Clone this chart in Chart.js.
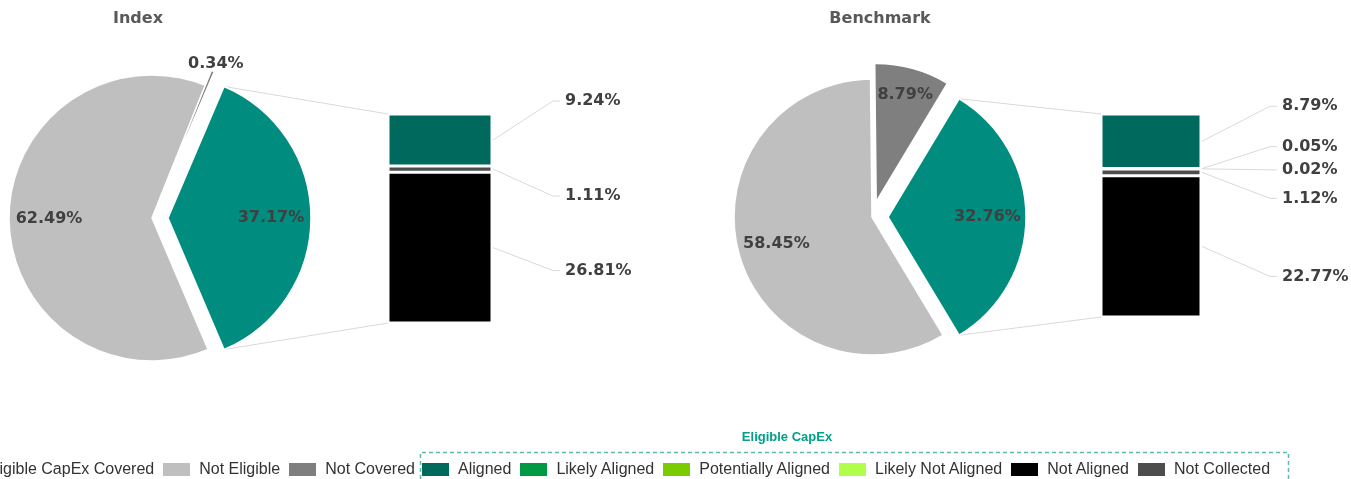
<!DOCTYPE html>
<html>
<head>
<meta charset="utf-8">
<script src="https://cdn.jsdelivr.net/npm/chart.js@4.4.1/dist/chart.umd.min.js"></script>
<style>
  html, body { margin: 0; padding: 0; background: #fff; overflow: hidden; }
  #wrap { position: relative; width: 1351px; height: 479px; overflow: hidden; }
  #wrap canvas { position: absolute; }
  .title { position: absolute; top: 8px; width: 160px; text-align: center; line-height: 20px;
           font: bold 16px "DejaVu Sans", Verdana, sans-serif; color: #595959; }
  .legend { position: absolute; top: 460px; height: 18px; display: flex; align-items: center;
            font: 16px "Liberation Sans", Arial, sans-serif; color: #333333; white-space: nowrap; }
  .legend .item { display: flex; align-items: center; margin-left: 9px; }
  .legend .sw { width: 27px; height: 13px; margin-right: 9px; flex: none; }
  #legA { left: 0; width: 415px; justify-content: flex-end; }
  #legB { left: 413px; }
  #groupTitle { position: absolute; left: 707px; width: 160px; top: 429px; line-height: 16px; text-align: center;
                font: bold 13px "Liberation Sans", Arial, sans-serif; color: #00A08A; }
</style>
</head>
<body>
<div id="wrap">
  <canvas id="links" width="1351" height="479" style="left:0;top:0"></canvas>
  <div class="title" style="left:58px">Index</div>
  <div class="title" style="left:800px">Benchmark</div>
  <canvas id="pie-index" width="364" height="340" style="left:-30px;top:48px"></canvas>
  <canvas id="bar-index" width="280" height="260" style="left:388px;top:84px"></canvas>
  <canvas id="pie-bench" width="364" height="340" style="left:690px;top:47px"></canvas>
  <canvas id="bar-bench" width="250" height="250" style="left:1101px;top:84px"></canvas>
  <div id="groupTitle">Eligible CapEx</div>
  <div id="legA" class="legend"></div>
  <div id="legB" class="legend"></div>
</div>
<script>
// pie: share of CapEx
const pieCats = ['Eligible CapEx Covered', 'Not Eligible', 'Not Covered'];
const pieColors = ['#008C7E', '#BFBFBF', '#7F7F7F'];
const indexPie = [37.17, 62.49, 0.34];
const benchPie = [32.76, 58.45, 8.79];

// bar: split of eligible CapEx (legend order)
const barCats = ['Aligned', 'Likely Aligned', 'Potentially Aligned', 'Likely Not Aligned', 'Not Aligned', 'Not Collected'];
const barColors = ['#00695E', '#009A44', '#7ACC00', '#B0FF4A', '#000000', '#4D4D4D'];
const indexBar = [9.24, 0, 0, 0, 26.81, 1.11];
const benchBar = [8.79, 0.05, 0.02, 0, 22.77, 1.12];
const stackOrder = [0, 1, 2, 3, 5, 4];   // top to bottom

// layout
const pieExplode = [16, 0, 16];
const FONT = '"DejaVu Sans", Verdana, sans-serif';
const LABEL_COLOR = '#404040';
const LINE_COLOR = '#D9D9D9';

Chart.defaults.devicePixelRatio = 1;

const sum = a => a.reduce((s, v) => s + v, 0);
const pct = v => v.toFixed(2) + '%';

function explodePlugin() {
    return {
        id: 'explode',
        beforeDatasetDraw(chart, args) {
            const ctx = chart.ctx;
            args.meta.data.forEach((arc, i) => {
                const d = pieExplode[i] || 0;
                const mid = (arc.startAngle + arc.endAngle) / 2;
                ctx.save();
                ctx.translate(Math.cos(mid) * d, Math.sin(mid) * d);
                arc.draw(ctx);
                ctx.restore();
            });
            return false;
        }
    };
}

function pieLabelPlugin(values) {
    return {
        id: 'pieLabels',
        afterDatasetsDraw(chart) {
            const ctx = chart.ctx;
            ctx.save();
            ctx.font = 'bold 16px ' + FONT;
            ctx.fillStyle = LABEL_COLOR;
            ctx.textAlign = 'center';
            ctx.textBaseline = 'middle';
            chart.getDatasetMeta(0).data.forEach((arc, i) => {
                const v = values[i];
                const mid = (arc.startAngle + arc.endAngle) / 2;
                const R = arc.outerRadius;
                const r = v < 2 ? R + 8 : (v < 15 ? R * 0.8 : R * 0.72);
                const d = (pieExplode[i] || 0) + r;
                ctx.fillText(pct(v), arc.x + Math.cos(mid) * d, arc.y + Math.sin(mid) * d);
            });
            ctx.restore();
        }
    };
}

function barLabelPlugin(values, gap, dy) {
    return {
        id: 'barLabels',
        afterDatasetsDraw(chart) {
            const ctx = chart.ctx;
            ctx.save();
            ctx.font = 'bold 16px ' + FONT;
            ctx.textBaseline = 'middle';
            ctx.textAlign = 'left';
            stackOrder.forEach((ci, di) => {
                const v = values[ci];
                if (!v) return;
                const bar = chart.getDatasetMeta(di).data[0];
                const right = bar.x + bar.width / 2;
                const cy = (bar.y + bar.base) / 2;
                const ly = cy + dy[ci];
                const tx = right + gap;
                ctx.strokeStyle = LINE_COLOR;
                ctx.lineWidth = 1;
                ctx.beginPath();
                ctx.moveTo(right + 1, cy);
                ctx.lineTo(tx - 12, ly);
                ctx.lineTo(tx - 5, ly);
                ctx.stroke();
                ctx.fillStyle = LABEL_COLOR;
                ctx.fillText(pct(v), tx, ly);
            });
            ctx.restore();
        }
    };
}

function makePie(id, values, radius) {
    const rotation = 90 - values[0] / sum(values) * 180;
    return new Chart(document.getElementById(id), {
        type: 'pie',
        data: {
            labels: pieCats,
            datasets: [{ data: values, backgroundColor: pieColors, borderColor: '#FFFFFF',
                         borderWidth: 1.5, hoverOffset: 0 }]
        },
        options: {
            responsive: false,
            animation: false,
            rotation: rotation,
            radius: radius,
            layout: { padding: 0 },
            events: [],
            plugins: { legend: { display: false }, tooltip: { enabled: false } }
        },
        plugins: [explodePlugin(), pieLabelPlugin(values)]
    });
}

function makeBar(id, values, padding, gap, dy) {
    const total = sum(values);
    return new Chart(document.getElementById(id), {
        type: 'bar',
        data: {
            labels: [''],
            datasets: stackOrder.map(ci => ({
                label: barCats[ci],
                data: [values[ci]],
                backgroundColor: barColors[ci],
                borderColor: '#FFFFFF',
                borderWidth: 1.5,
                borderSkipped: false,
                inflateAmount: 0,
                barPercentage: 1,
                categoryPercentage: 1
            }))
        },
        options: {
            responsive: false,
            animation: false,
            events: [],
            layout: { padding: padding },
            scales: {
                x: { display: false, stacked: true },
                y: { display: false, stacked: true, reverse: true, min: 0, max: total }
            },
            plugins: { legend: { display: false }, tooltip: { enabled: false } }
        },
        plugins: [barLabelPlugin(values, gap, dy)]
    });
}

const pieIndex = makePie('pie-index', indexPie, 143);
const barIndex = makeBar('bar-index', indexBar, { top: 30, bottom: 21, left: 0, right: 176 }, 73,
                         [-39, 0, 0, 0, 23, 27]);
const pieBench = makePie('pie-bench', benchPie, 138);
const barBench = makeBar('bar-bench', benchBar, { top: 30, bottom: 17, left: 0, right: 150 }, 81,
                         [-35, -22, 1, 0, 30, 26]);

// pie-to-bar connector lines and the dashed legend frame
const links = document.getElementById('links').getContext('2d');

function drawLinks(pie, bar, total) {
    const arc = pie.getDatasetMeta(0).data[0];
    const mid = (arc.startAngle + arc.endAngle) / 2;
    const ox = pie.canvas.offsetLeft + arc.x + Math.cos(mid) * pieExplode[0];
    const oy = pie.canvas.offsetTop + arc.y + Math.sin(mid) * pieExplode[0];
    const r = arc.outerRadius;
    const el = bar.getDatasetMeta(0).data[0];
    const bx = bar.canvas.offsetLeft + el.x - el.width / 2;
    const top = bar.canvas.offsetTop + bar.scales.y.getPixelForValue(0);
    const bottom = bar.canvas.offsetTop + bar.scales.y.getPixelForValue(total);
    links.strokeStyle = LINE_COLOR;
    links.lineWidth = 1;
    links.beginPath();
    links.moveTo(ox + Math.cos(arc.startAngle) * r, oy + Math.sin(arc.startAngle) * r);
    links.lineTo(bx, top);
    links.moveTo(ox + Math.cos(arc.endAngle) * r, oy + Math.sin(arc.endAngle) * r);
    links.lineTo(bx, bottom);
    links.stroke();
}
drawLinks(pieIndex, barIndex, sum(indexBar));
drawLinks(pieBench, barBench, sum(benchBar));

links.save();
links.strokeStyle = '#5FB8AE';
links.lineWidth = 1.5;
links.setLineDash([4, 3]);
links.beginPath();
links.moveTo(420.5, 479);
links.lineTo(420.5, 452.5);
links.lineTo(1288.5, 452.5);
links.lineTo(1288.5, 479);
links.stroke();
links.restore();

// legend
function fillLegend(id, cats, colors) {
    const box = document.getElementById(id);
    cats.forEach((c, i) => {
        const item = document.createElement('span');
        item.className = 'item';
        item.innerHTML = '<span class="sw" style="background:' + colors[i] + '"></span><span>' + c + '</span>';
        box.appendChild(item);
    });
}
fillLegend('legA', pieCats, pieColors);
fillLegend('legB', barCats, barColors);
</script>
</body>
</html>
